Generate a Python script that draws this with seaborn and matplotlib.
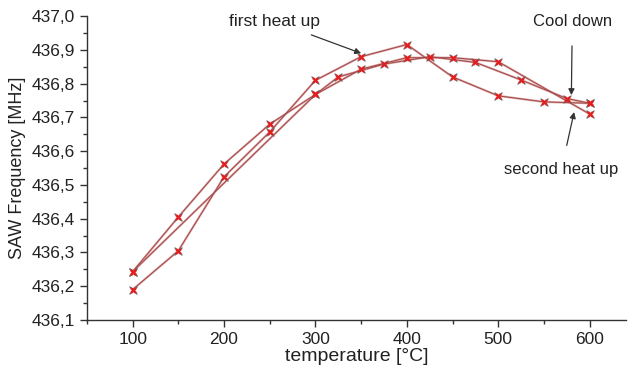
import matplotlib
matplotlib.use("Agg")
import matplotlib.pyplot as plt
from matplotlib.ticker import MultipleLocator, FuncFormatter
import seaborn as sns
import pandas as pd

# ---- data ----
temps_first = [100, 150, 200, 250, 300, 350, 400, 450, 500, 550, 600]
freq_first = [436.19, 436.305, 436.524, 436.657, 436.81, 436.88, 436.916, 436.82, 436.764, 436.746, 436.742]

temps_cool = [600, 575, 525, 475, 425, 375, 325, 300, 100]
freq_cool = [436.742, 436.756, 436.811, 436.863, 436.88, 436.858, 436.82, 436.768, 436.243]

temps_second = [100, 150, 200, 250, 300, 350, 400, 450, 500, 600]
freq_second = [436.243, 436.405, 436.562, 436.68, 436.768, 436.843, 436.877, 436.877, 436.865, 436.71]

series_names = ["first heat up", "Cool down", "second heat up"]

sns.set_theme(style="ticks")
plt.rcParams['font.family'] = ['Liberation Sans', 'DejaVu Sans']

fig = plt.figure(figsize=(6.3, 3.76), dpi=100)
ax = fig.add_axes([0.138, 0.149, 0.856, 0.808])

line_color = "#a04848"
for name, t, f in zip(series_names, [temps_first, temps_cool, temps_second],
                      [freq_first, freq_cool, freq_second]):
    df = pd.DataFrame({"temperature": t, "freq": f})
    sns.lineplot(data=df, x="temperature", y="freq", sort=False, estimator=None,
                 ax=ax, color="#e0a8a8", linewidth=1.6, zorder=2)
    sns.lineplot(data=df, x="temperature", y="freq", sort=False, estimator=None,
                 ax=ax, color=line_color, linewidth=0.7, zorder=3)
    sns.scatterplot(data=df, x="temperature", y="freq", ax=ax, marker="x",
                    color="#666666", s=32, linewidth=0.9, zorder=4)
    sns.scatterplot(data=df, x="temperature", y="freq", ax=ax, marker="X",
                    color="#e02020", s=24, linewidth=0, zorder=5)

ax.set_xlim(50, 640)
ax.set_ylim(436.1, 437.0)
ax.xaxis.set_major_locator(MultipleLocator(100))
ax.xaxis.set_minor_locator(MultipleLocator(50))
ax.yaxis.set_major_locator(MultipleLocator(0.1))
ax.yaxis.set_minor_locator(MultipleLocator(0.05))
ax.yaxis.set_major_formatter(FuncFormatter(lambda v, p: f"{v:.1f}".replace(".", ",")))

for s in ["top", "right"]:
    ax.spines[s].set_visible(False)
for s in ["left", "bottom"]:
    ax.spines[s].set_color("#333333")
    ax.spines[s].set_linewidth(1.0)

ax.tick_params(axis="both", which="major", direction="out", length=5, width=1,
               color="#333333", labelsize=12.5, labelcolor="#222222")
ax.tick_params(axis="both", which="minor", direction="out", length=3, width=1,
               color="#333333")

ax.set_xlabel("temperature [°C]", fontsize=14, color="#222222", labelpad=1)
ax.set_ylabel("SAW Frequency [MHz]", fontsize=13, color="#222222", labelpad=4)

arrow = dict(arrowstyle="-|>", color="#333333", lw=0.9, mutation_scale=9)
ax.annotate("first heat up", xy=(350, 436.89), xytext=(255, 436.985),
            ha="center", va="center", fontsize=12.5, color="#222222",
            arrowprops=dict(arrow, shrinkA=6, shrinkB=0))
ax.annotate("Cool down", xy=(580, 436.766), xytext=(581, 436.985),
            ha="center", va="center", fontsize=12, color="#222222",
            arrowprops=dict(arrow, shrinkA=10, shrinkB=0))
ax.annotate("second heat up", xy=(583, 436.716), xytext=(569, 436.545),
            ha="center", va="center", fontsize=12, color="#222222",
            arrowprops=dict(arrow, shrinkA=10, shrinkB=0))

fig.savefig("out.png", dpi=100)
